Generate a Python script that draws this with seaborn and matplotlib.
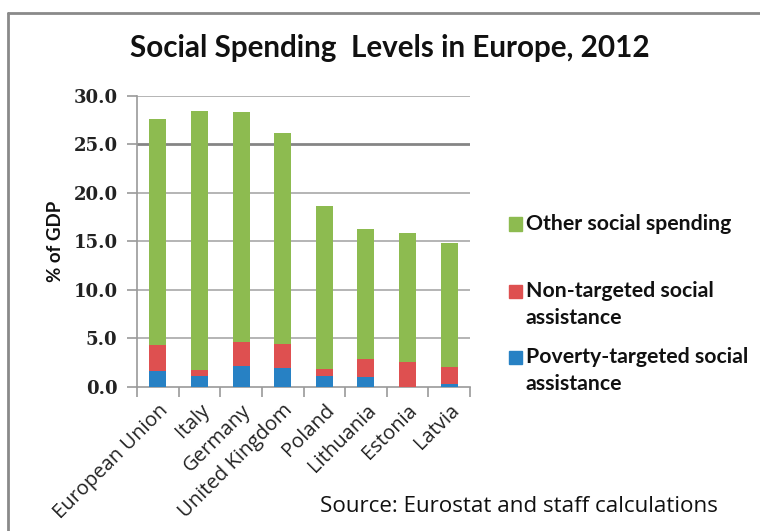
import numpy as np
import pandas as pd
import matplotlib
matplotlib.use("Agg")
import matplotlib.pyplot as plt
import seaborn as sns
from matplotlib.lines import Line2D

countries = ["European Union", "Italy", "Germany", "United Kingdom",
             "Poland", "Lithuania", "Estonia", "Latvia"]
poverty_targeted = [1.55, 1.07, 2.14, 1.96, 1.10, 0.93, 0.0, 0.27]
non_targeted = [2.69, 0.65, 2.48, 2.41, 0.66, 1.89, 2.54, 1.73]
other_spending = [23.42, 26.73, 23.68, 21.83, 16.90, 13.46, 13.36, 12.80]
series_names = ["Other social spending", "Non-targeted social\nassistance",
                "Poverty-targeted social\nassistance"]
yticks = [0.0, 5.0, 10.0, 15.0, 20.0, 25.0, 30.0]

c_green = "#8DBB50"
c_red = "#DE5050"
c_blue = "#2781C4"

sns.set_style("white")
plt.rcParams["font.family"] = ["Open Sans", "DejaVu Sans"]

df = pd.DataFrame({
    "country": countries,
    "blue": poverty_targeted,
    "red": non_targeted,
    "green": other_spending,
})
df["red_top"] = df["blue"] + df["red"]
df["total"] = df["red_top"] + df["green"]

fig = plt.figure(figsize=(7.6, 5.31), dpi=100)
ax = fig.add_axes([137 / 760, 1 - 386.5 / 531, 333 / 760, 290.5 / 531])

for y in yticks[1:]:
    if y == 25.0:
        ax.axhline(y, color="#858585", lw=2.0, zorder=0)
    else:
        ax.axhline(y, color="#A8A8A8", lw=1.2, zorder=0)

bw = 0.41
sns.barplot(data=df, x="country", y="total", color=c_green, width=bw,
            saturation=1, linewidth=0, ax=ax, zorder=2)
sns.barplot(data=df, x="country", y="red_top", color=c_red, width=bw,
            saturation=1, linewidth=0, ax=ax, zorder=3)
sns.barplot(data=df, x="country", y="blue", color=c_blue, width=bw,
            saturation=1, linewidth=0, ax=ax, zorder=4)

ax.set_ylim(0, 30)
ax.set_xlim(-0.5, len(countries) - 0.5)
ax.set_yticks(yticks)
ax.set_yticklabels([f"{v:.1f}" for v in yticks], family="DejaVu Serif",
                   fontweight="bold", fontsize=13, color="#222222")
ax.tick_params(axis="y", length=7, width=1.2, color="#9A9A9A", pad=7, left=True)
ax.set_xticks(range(len(countries)))
ax.set_xticklabels(countries, rotation=45, ha="right", rotation_mode="anchor",
                   fontsize=14.5, family=["Open Sans", "DejaVu Sans"],
                   color="#222222")
ax.tick_params(axis="x", length=0, pad=10)
ax.set_xticks(np.arange(-0.5, len(countries), 1.0), minor=True)
ax.tick_params(axis="x", which="minor", length=7, width=1.2, color="#9A9A9A",
               bottom=True)
ax.set_xlabel("")
ax.set_ylabel("% of GDP", fontsize=13.5, fontweight="bold", labelpad=7,
              family=["Lato", "DejaVu Sans"], color="#111111")

for s in ["top", "right"]:
    ax.spines[s].set_visible(False)
for s in ["left", "bottom"]:
    ax.spines[s].set_color("#9A9A9A")
    ax.spines[s].set_linewidth(1.2)

# legend: first-line centres (px from top)
leg_y = [224, 291, 357]
line_gap = 27
for col, name, yy in zip([c_green, c_red, c_blue], series_names, leg_y):
    fig.patches.append(plt.Rectangle((509 / 760, 1 - (yy + 6.5) / 531),
                                     13 / 760, 13 / 531, color=col,
                                     transform=fig.transFigure, figure=fig))
    for i, line in enumerate(name.split("\n")):
        fig.text(526 / 760, 1 - (yy + i * line_gap) / 531, line, fontsize=15.3,
                 family=["Lato", "DejaVu Sans"], fontweight="bold",
                 va="center", ha="left", color="#111111")

fig.text(390 / 760, 1 - 48 / 531, "Social Spending  Levels in Europe, 2012",
         fontsize=21.3, fontweight="bold", family=["Lato", "DejaVu Sans"],
         ha="center", va="center", color="#111111")
fig.text(320 / 760, 1 - 507 / 531, "Source: Eurostat and staff calculations",
         fontsize=16.1, family=["Open Sans", "DejaVu Sans"],
         ha="left", va="center", color="#111111")

# outer frame
fig.add_artist(Line2D([8 / 760, 8 / 760], [0, 1 - 13 / 531], color="#8A8A8A",
                      lw=2, transform=fig.transFigure))
fig.add_artist(Line2D([8 / 760, 1], [1 - 13 / 531, 1 - 13 / 531], color="#8A8A8A",
                      lw=2, transform=fig.transFigure))

fig.savefig("out.png", dpi=100)
